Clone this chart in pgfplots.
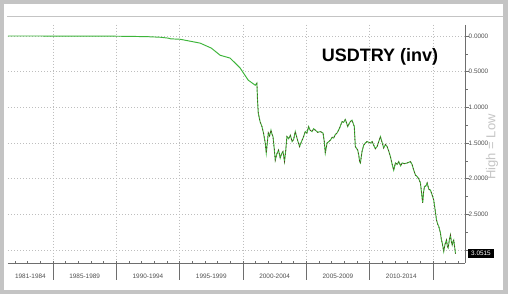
\documentclass[border=0pt]{standalone}
\usepackage{fontspec}
\setmainfont{Liberation Sans}
\usepackage{pgfplots}
\usepackage{pgfplotstable}
\pgfplotsset{compat=1.18}
\definecolor{framegray}{HTML}{C4C4C4}
\definecolor{gridgray}{HTML}{BEBEBE}
\definecolor{axgray}{HTML}{6E6E6E}
\definecolor{lblgray}{HTML}{505050}
\definecolor{usdgreen}{HTML}{3DB53A}
\definecolor{usdbrown}{HTML}{5A2A1E}
\definecolor{wmgray}{HTML}{BBBBBB}

\pgfplotstableread{
year value
1981.45 0.000
1986.00 0.001
1989.00 0.002
1991.00 0.005
1992.50 0.010
1993.50 0.018
1994.10 0.030
1994.30 0.040
1995.04 0.046
1996.62 0.100
1997.50 0.170
1998.20 0.270
1998.99 0.310
1999.78 0.450
2000.42 0.620
2000.97 0.690
2001.10 0.660
2001.15 0.900
2001.21 1.080
2001.35 1.200
2001.50 1.270
2001.62 1.360
2001.76 1.500
2001.84 1.640
2001.92 1.500
2002.00 1.360
2002.10 1.400
2002.21 1.320
2002.30 1.380
2002.37 1.410
2002.47 1.580
2002.55 1.740
2002.68 1.650
2002.81 1.600
2002.94 1.710
2003.05 1.650
2003.16 1.620
2003.28 1.760
2003.38 1.600
2003.47 1.410
2003.60 1.440
2003.74 1.390
2003.88 1.480
2004.00 1.450
2004.13 1.340
2004.22 1.400
2004.31 1.460
2004.47 1.550
2004.62 1.480
2004.79 1.410
2004.92 1.340
2005.05 1.360
2005.18 1.270
2005.30 1.320
2005.45 1.340
2005.58 1.300
2005.71 1.320
2005.90 1.350
2006.11 1.340
2006.32 1.360
2006.42 1.480
2006.50 1.640
2006.64 1.500
2006.78 1.480
2006.90 1.460
2007.05 1.420
2007.16 1.430
2007.30 1.380
2007.43 1.360
2007.63 1.290
2007.82 1.200
2007.95 1.210
2008.08 1.170
2008.18 1.220
2008.27 1.270
2008.38 1.230
2008.48 1.200
2008.61 1.180
2008.79 1.270
2008.87 1.550
2009.06 1.600
2009.15 1.680
2009.21 1.760
2009.27 1.780
2009.40 1.620
2009.53 1.530
2009.66 1.500
2009.80 1.480
2010.06 1.500
2010.20 1.480
2010.32 1.530
2010.45 1.580
2010.59 1.550
2010.72 1.480
2010.85 1.410
2011.00 1.500
2011.11 1.570
2011.25 1.520
2011.38 1.550
2011.52 1.620
2011.64 1.690
2011.78 1.800
2011.90 1.880
2012.04 1.780
2012.18 1.800
2012.30 1.760
2012.45 1.820
2012.57 1.780
2012.75 1.790
2012.96 1.780
2013.10 1.770
2013.22 1.760
2013.35 1.800
2013.48 1.880
2013.62 1.950
2013.75 1.970
2013.90 2.010
2014.01 2.060
2014.10 2.200
2014.19 2.340
2014.25 2.200
2014.33 2.110
2014.45 2.100
2014.54 2.060
2014.68 2.150
2014.80 2.160
2014.92 2.220
2015.06 2.300
2015.18 2.450
2015.28 2.580
2015.38 2.640
2015.46 2.670
2015.59 2.760
2015.66 2.850
2015.73 2.900
2015.85 3.020
2015.95 2.920
2016.07 2.860
2016.14 2.950
2016.20 2.970
2016.30 2.850
2016.38 2.790
2016.45 2.880
2016.52 2.930
2016.58 2.880
2016.64 2.860
2016.72 2.970
2016.78 3.0515
}\usdtry

\begin{document}
\begin{tikzpicture}
\fill[framegray] (0pt,0pt) rectangle (508pt,294pt);
\fill[white] (4pt,4pt) rectangle (503pt,289.5pt);
\draw[framegray, line width=1pt] (7pt,277pt) -- (503pt,277pt);
\begin{axis}[
  at={(8pt,31pt)}, anchor=south west,
  width=457pt, height=238pt, scale only axis,
  xmin=1981.45, xmax=2017.53,
  ymin=-0.154, ymax=3.182, y dir=reverse,
  axis x line*=bottom, axis y line*=right,
  axis line style={-, draw=axgray, line width=0.6pt},
  xtick={1985,1990,...,2015}, xticklabels={},
  minor xtick={1982,...,2017},
  ytick={0,0.5,...,3},
  yticklabels={0.0000,0.5000,1.0000,1.5000,2.0000,2.5000,},
  minor ytick={0.25,0.75,...,3},
  tick align=outside,
  major tick length=4pt, minor tick length=2.5pt,
  minor x tick style={yshift=2.5pt},
  tick style={draw=axgray, line width=0.5pt},
  xmajorgrids=true, ymajorgrids=true,
  major grid style={draw=gridgray, line width=0.6pt, dash pattern=on 1pt off 2pt},
  yticklabel style={anchor=west, xshift=-1.5pt, inner sep=1pt, text=lblgray,
    font=\fontsize{6.4}{7}\selectfont},
  clip=false,
]
\addplot[usdgreen, line width=0.95pt] table[x=year, y=value] {\usdtry};
\addplot[usdbrown, line width=0.6pt, dash pattern=on 1.2pt off 2.4pt, restrict x to domain=2001.1:2017]
  table[x=year, y=value] {\usdtry};
\pgfplotsinvokeforeach{1985,1990,1995,2000,2005,2010,2015}{
  \draw[axgray, line width=0.5pt] (axis cs:#1,3.182) -- ++(0pt,-17pt);
}
\node[font=\fontsize{6.4}{7}\selectfont, text=lblgray] at (axis cs:1983.22,3.182) [yshift=-13pt] {1981-1984};
\node[font=\fontsize{6.4}{7}\selectfont, text=lblgray] at (axis cs:1987.5,3.182) [yshift=-13pt] {1985-1989};
\node[font=\fontsize{6.4}{7}\selectfont, text=lblgray] at (axis cs:1992.5,3.182) [yshift=-13pt] {1990-1994};
\node[font=\fontsize{6.4}{7}\selectfont, text=lblgray] at (axis cs:1997.5,3.182) [yshift=-13pt] {1995-1999};
\node[font=\fontsize{6.4}{7}\selectfont, text=lblgray] at (axis cs:2002.5,3.182) [yshift=-13pt] {2000-2004};
\node[font=\fontsize{6.4}{7}\selectfont, text=lblgray] at (axis cs:2007.5,3.182) [yshift=-13pt] {2005-2009};
\node[font=\fontsize{6.4}{7}\selectfont, text=lblgray] at (axis cs:2012.5,3.182) [yshift=-13pt] {2010-2014};
\node[fill=black, text=white, font=\fontsize{6.4}{7}\selectfont, inner xsep=3pt, inner ysep=2pt, anchor=west]
  at (axis cs:2017.53,3.0515) [xshift=3pt] {3.0515};
\end{axis}
\node[font=\bfseries\fontsize{18}{18}\selectfont] at (380pt,237pt) {USDTRY (inv)};
\node[rotate=90, text=wmgray, opacity=0.85, font=\fontsize{13}{13}\selectfont] at (492pt,147pt) {High = Low};
\pgfresetboundingbox
\useasboundingbox (0pt,0pt) rectangle (508pt,294pt);
\end{tikzpicture}
\end{document}
